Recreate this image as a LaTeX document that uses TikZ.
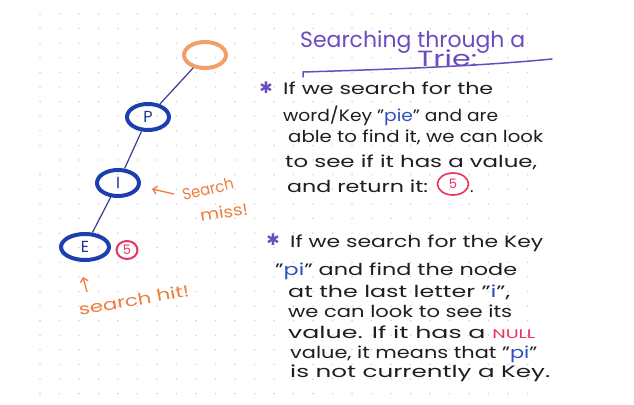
\documentclass[tikz,border=0pt]{standalone}
\usepackage{fontspec}
\usepackage{graphicx}
\setmainfont{Poppins}
\newfontfamily\symf{DejaVu Sans}
\usetikzlibrary{shapes.geometric,arrows.meta}
\definecolor{titlepurple}{HTML}{6B4BC0}
\definecolor{ink}{HTML}{1E1E1E}
\definecolor{nodeblue}{HTML}{1B3FAF}
\definecolor{edgecol}{HTML}{3C3C8C}
\definecolor{rootorange}{HTML}{F2A06A}
\definecolor{orangetxt}{HTML}{EE7D3E}
\definecolor{redfive}{HTML}{E8335F}
\definecolor{pieblue}{HTML}{3050C0}
\definecolor{dotgray}{HTML}{D6D6D6}
\newcommand\hw[2]{\resizebox{#1pt}{\height}{#2}}
\newcommand\bl[1]{\textcolor{pieblue}{#1}}
\begin{document}
\begin{tikzpicture}[x=1pt,y=-1pt,
  trienode/.style={ellipse, draw=nodeblue, line width=4pt, minimum width=42pt, minimum height=26pt, inner sep=0pt, text=nodeblue!85!black, font=\fontsize{16}{16}\selectfont},
  rootnode/.style={trienode, draw=rootorange},
  edge/.style={draw=edgecol, line width=1.2pt},
  hand/.style={anchor=base west, inner sep=0pt, text=ink, font=\fontsize{16.5}{16.5}\selectfont},
  titletext/.style={anchor=base west, inner sep=0pt, text=titlepurple, font=\fontsize{22}{22}\selectfont},
  note/.style={inner sep=0pt, text=orangetxt, font=\fontsize{16}{16}\selectfont},
  notearrow/.style={draw=orangetxt, line width=1.3pt, -{Straight Barb[length=4pt,width=8pt]}},
  starbullet/.style={inner sep=0pt, text=titlepurple, font=\symf\fontsize{16}{16}\selectfont},
  fivecircle/.style={ellipse, draw=redfive, line width=1.6pt, text=redfive, inner sep=0pt, font=\fontsize{13}{13}\selectfont}
]
\useasboundingbox (0,0) rectangle (634,404);
\fill[white] (0,0) rectangle (634,404);
% dot grid
\foreach \i in {0,...,25} {
  \foreach \j in {0,...,26} {
    \fill[dotgray] ({40+19.5*\i},{14+14.6*\j}) circle (0.9pt);
  }
}
% trie
\node[rootnode] (root) at (205,55) {};
\node[trienode] (p) at (148,117) {P};
\node[trienode] (i) at (118,183) {I};
\node[trienode, minimum width=48pt] (e) at (85,247) {E};
\node[fivecircle, line width=2pt, minimum width=21pt, minimum height=18pt] (val) at (127,250) {5};
\draw[edge] (root) -- (p);
\draw[edge] (p) -- (i);
\draw[edge] (i) -- (e);
% search miss
\coordinate (missTail) at (174,194);
\coordinate (missHead) at (152,189);
\draw[notearrow] (missTail) -- (missHead);
\node[note, rotate=13] (missA) at (208,189) {\hw{52}{Search}};
\node[note, rotate=9] (missB) at (224,212) {\hw{48}{miss!}};
% search hit
\coordinate (hitTail) at (87,292);
\coordinate (hitHead) at (83,277);
\draw[notearrow] (hitTail) -- (hitHead);
\node[note, rotate=10] (hit) at (134,300) {\hw{112}{search hit!}};
% title
\node[titletext] (t1) at (300,48) {\hw{225}{Searching through a}};
\node[titletext] (t2) at (417,67) {\hw{60}{Trie:}};
\coordinate (u0) at (303,77);
\coordinate (u1) at (303,72);
\coordinate (u2) at (552,59);
\draw[titlepurple, line width=1.5pt, line cap=round] (u0) -- (u1) .. controls (400,69) and (480,66) .. (u2);
% block 1
\node[starbullet] (s1) at (266,88) {✱};
\node[hand] (a1) at (283,95) {\hw{210}{If we search for the}};
\node[hand] (a2) at (283,121) {\hw{215}{word/Key "\bl{pie}" and are}};
\node[hand] (a3) at (288,142) {\hw{255}{able to find it, we can look}};
\node[hand] (a4) at (285,167) {\hw{252}{to see if it has a value,}};
\node[hand] (a5) at (287,192) {\hw{141}{and return it:}};
\node[fivecircle, minimum width=31pt, minimum height=22pt] (five) at (453,184) {5};
\node[hand] (dot) at (470,192) {.};
% block 2
\node[starbullet] (s2) at (273,240) {✱};
\node[hand] (b1) at (290,247) {\hw{253}{If we search for the Key}};
\node[hand] (b2) at (275,275) {\hw{242}{"\bl{pi}" and find the node}};
\node[hand] (b3) at (288,297) {\hw{222}{at the last letter "\bl{i}",}};
\node[hand] (b4) at (288,317) {\hw{224}{we can look to see its}};
\node[hand] (b5) at (288,338) {\hw{247}{value. If it has a \textcolor{redfive}{\fontsize{12.5}{12.5}\selectfont NULL}}};
\node[hand] (b6) at (290,358) {\hw{247}{value, it means that "\bl{pi}"}};
\node[hand] (b7) at (290,377) {\hw{260}{is not currently a Key.}};
\end{tikzpicture}
\end{document}
